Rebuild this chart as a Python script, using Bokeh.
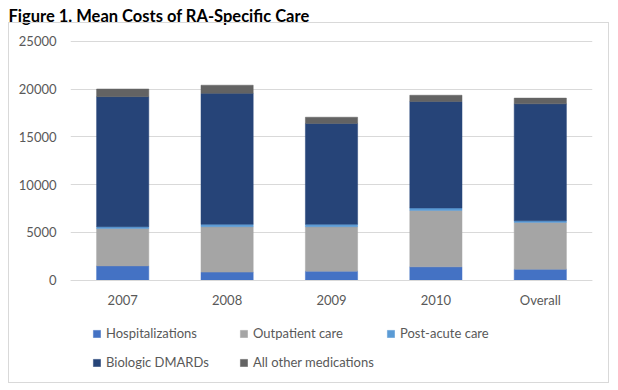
from bokeh.plotting import figure
from bokeh.models import (ColumnDataSource, FactorRange, Legend, LegendItem,
                          NumeralTickFormatter, FixedTicker, InlineStyleSheet)
from bokeh.embed import file_html
from bokeh.resources import INLINE

categories = ["2007", "2008", "2009", "2010", "Overall"]
hospitalizations = [1500, 850, 950, 1400, 1150]
outpatient_care = [3900, 4750, 4650, 5900, 4900]
post_acute_care = [200, 250, 250, 250, 170]
biologic_dmards = [13600, 13700, 10550, 11150, 12230]
other_medications = [800, 850, 650, 650, 600]
series_names = ["Hospitalizations", "Outpatient care", "Post-acute care",
                "Biologic DMARDs", "All other medications"]
colors = ["#4472C4", "#A5A5A5", "#5B9BD5", "#264478", "#636363"]
y_ticks = [0, 5000, 10000, 15000, 20000, 25000]
title_text = "Figure 1. Mean Costs of RA-Specific Care"

keys = ["hosp", "outp", "post", "bio", "other"]
source = ColumnDataSource(dict(
    cat=categories, hosp=hospitalizations, outp=outpatient_care,
    post=post_acute_care, bio=biologic_dmards, other=other_medications))

FONT = "Lato"
TXT = "#595959"

# the value scale 0..25000 fills the middle of the frame; the frame also holds
# the category labels and the legend underneath
Y_MAX = 26332
Y_MIN = -10281

p = figure(x_range=FactorRange(*categories), y_range=(Y_MIN, Y_MAX),
           width=618, height=390, output_backend="svg", toolbar_location=None,
           min_border_left=70, min_border_right=26, min_border_top=26,
           min_border_bottom=12)

renderers = p.vbar_stack(keys, x="cat", width=0.5, source=source,
                         fill_color=colors, line_color=colors, line_width=0.5)

p.title.text = title_text
p.title.text_font = FONT
p.title.text_font_style = "bold"
p.title.text_font_size = "16.5px"
p.title.text_color = "#000000"
p.title.align = "left"
p.title.offset = -62
p.title.standoff = 6

p.outline_line_color = None
p.background_fill_color = "white"
p.border_fill_color = "white"

p.xgrid.grid_line_color = None
p.ygrid.grid_line_color = "#d9d9d9"
p.ygrid.ticker = FixedTicker(ticks=y_ticks)

p.yaxis.ticker = FixedTicker(ticks=y_ticks)
p.yaxis.formatter = NumeralTickFormatter(format="0")
p.yaxis.axis_line_color = None
p.yaxis.major_tick_line_color = None
p.yaxis.minor_tick_line_color = None
p.yaxis.major_tick_out = 0
p.yaxis.major_tick_in = 0
p.yaxis.major_label_standoff = 14
p.yaxis.major_label_text_font = FONT
p.yaxis.major_label_text_font_size = "13px"
p.yaxis.major_label_text_color = TXT

p.xaxis.fixed_location = 0
p.xaxis.axis_line_color = "#d9d9d9"
p.xaxis.major_tick_line_color = None
p.xaxis.minor_tick_line_color = None
p.xaxis.major_tick_out = 0
p.xaxis.major_tick_in = 0
p.xaxis.major_label_standoff = 12
p.xaxis.major_label_text_font = FONT
p.xaxis.major_label_text_font_size = "13px"
p.xaxis.major_label_text_color = TXT

items = [LegendItem(label=n, renderers=[renderers[i]]) for i, n in enumerate(series_names)]
legend = Legend(items=items, ncols=3, location=(22, 5), margin=0, padding=0,
                orientation="horizontal",
                glyph_width=9, glyph_height=9, label_standoff=5,
                label_height=22, label_width=126, spacing=7,
                label_text_font=FONT, label_text_font_size="13px",
                label_text_color=TXT, border_line_color=None,
                background_fill_alpha=0)
p.add_layout(legend)

# light grey chart-area border (Excel chart frame), drawn with CSS
p.stylesheets = [InlineStyleSheet(css=(
    ":host { position: relative; }"
    ":host::after { content: ''; position: absolute; left: 8px; top: 22px;"
    " width: 599px; height: 359px; border: 1px solid #d9d9d9;"
    " pointer-events: none; z-index: 10; }"))]

open("out.html", "w").write(file_html(p, INLINE))
